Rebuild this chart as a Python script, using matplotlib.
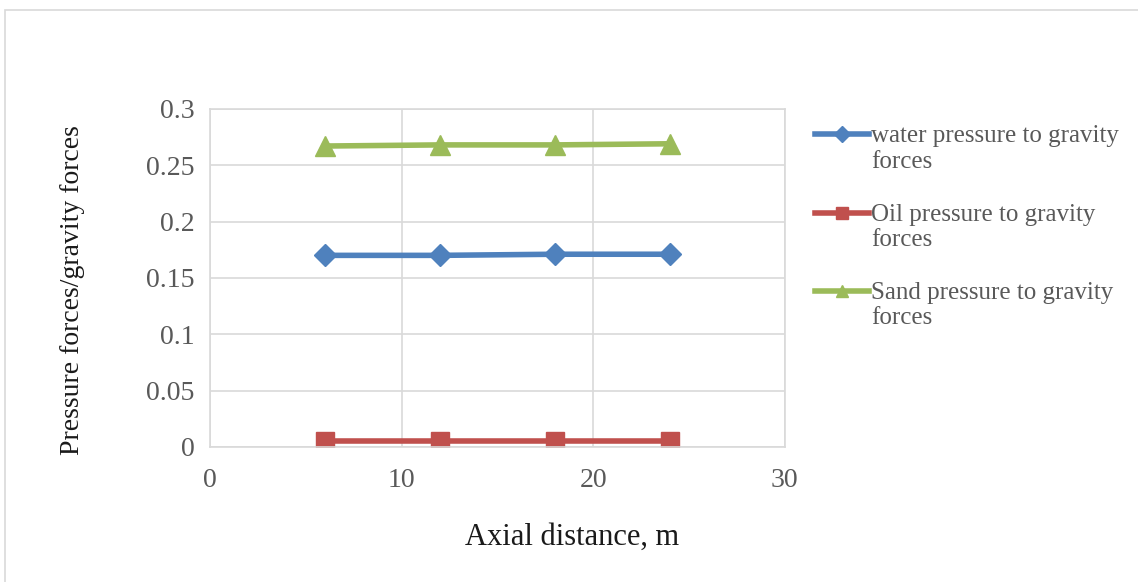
import matplotlib.pyplot as plt
from matplotlib.lines import Line2D
from matplotlib.patches import Rectangle

plt.rcParams['font.family'] = ['Liberation Serif', 'DejaVu Serif']

distance = [6, 12, 18, 24]
water = [0.170, 0.170, 0.171, 0.171]
oil = [0.005, 0.005, 0.005, 0.005]
sand = [0.267, 0.268, 0.268, 0.269]

x_ticks = [0, 10, 20, 30]
y_ticks = [0, 0.05, 0.1, 0.15, 0.2, 0.25, 0.3]
y_labels = ['0', '0.05', '0.1', '0.15', '0.2', '0.25', '0.3']

grey = '#595959'
grid = '#d9d9d9'

fig = plt.figure(figsize=(11.38, 5.82), dpi=100)
ax = fig.add_axes([0.1845, 0.232, 0.505, 0.581])

# outer chart border
fig.patches.append(Rectangle((5 / 1138, -0.01), 1, 1 - 10 / 582 + 0.01, transform=fig.transFigure,
                             fill=False, edgecolor=grid, linewidth=1.2))

ax.plot(distance, water, color='#4f81bd', linewidth=4, marker='D', markersize=11,
        label='water pressure to gravity\nforces')
ax.plot(distance, oil, color='#c0504d', linewidth=4, marker='s', markersize=13,
        label='Oil pressure to gravity\nforces')
ax.plot(distance, sand, color='#9bbb59', linewidth=4, marker='^', markersize=14,
        label='Sand pressure to gravity\nforces')

ax.set_xlim(0, 30)
ax.set_ylim(0, 0.3)
ax.set_xticks(x_ticks)
ax.set_yticks(y_ticks)
ax.set_yticklabels(y_labels)
ax.grid(True, color=grid, linewidth=1.2)
ax.set_axisbelow(True)
for s in ax.spines.values():
    s.set_color(grid)
    s.set_linewidth(1.2)
ax.tick_params(length=0, labelsize=20, labelcolor=grey)
ax.tick_params(axis='y', pad=11)
ax.tick_params(axis='x', pad=15)

# axis titles are centred on the whole chart area, not on the plot area
ax.set_xlabel('Axial distance, m', fontsize=22, color='#1a1a1a')
ax.xaxis.set_label_coords(0.503, 0.077, transform=fig.transFigure)
ax.xaxis.label.set_va('center')
ax.set_ylabel('Pressure forces/gravity forces', fontsize=20, color='#1a1a1a')
ax.yaxis.set_label_coords(0.064, 0.502, transform=fig.transFigure)
ax.yaxis.label.set_va('center')

leg = ax.legend(loc='upper left', frameon=False, fontsize=18, handlelength=2.15,
                handletextpad=0.1, labelspacing=1.24, labelcolor=grey)
leg.set_bbox_to_anchor((1.014, 1.018), transform=ax.transAxes)
for h in leg.findobj(Line2D):
    h.set_markersize(8)
    # put the handle on the first text line like the original
    h.set_ydata([y + 10.5 for y in h.get_ydata()])

fig.savefig('out.png', dpi=100)
